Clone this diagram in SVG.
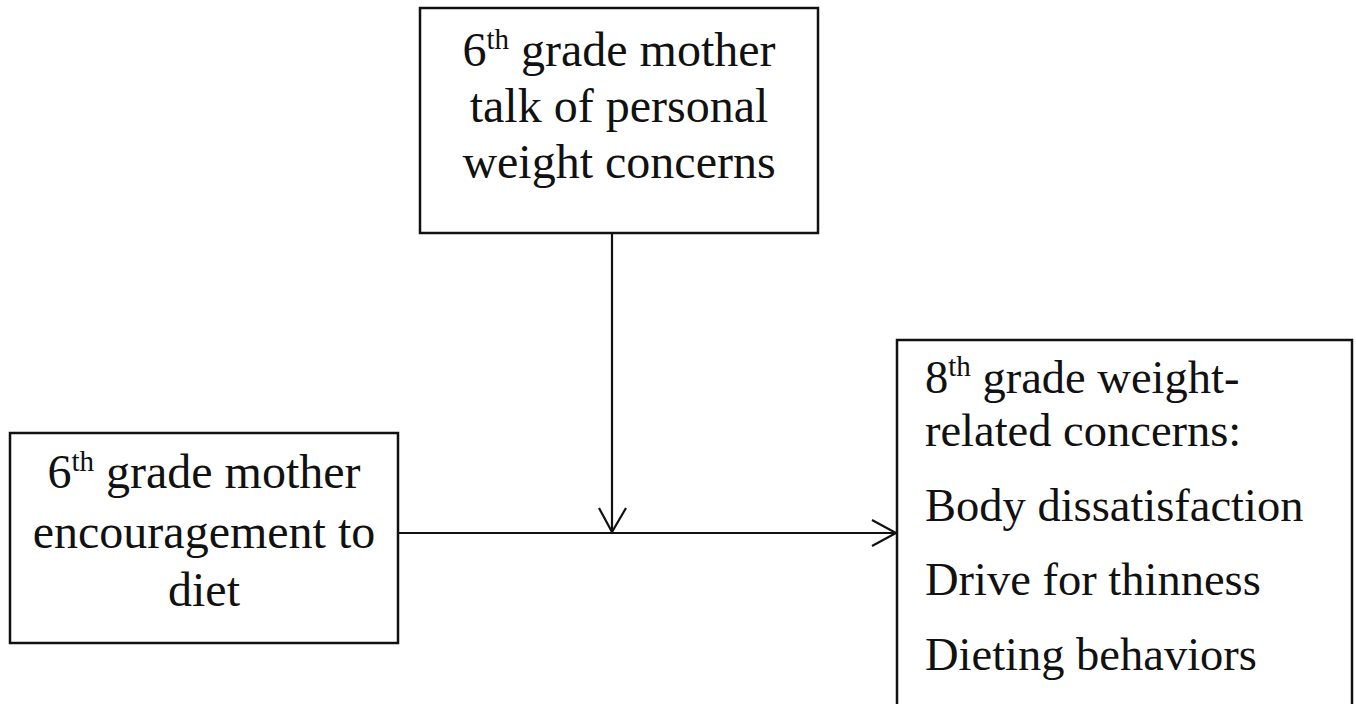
<svg xmlns="http://www.w3.org/2000/svg" width="1356" height="704" viewBox="0 0 1356 704">
<style>
.box{fill:#fff;stroke:#111;stroke-width:2.5}
.t{font-family:"Liberation Serif","Times New Roman",serif;font-size:48px;fill:#111}
.r{font-size:46.5px}
.c{text-anchor:middle}
.sup{font-size:29px}
.ln{stroke:#111;stroke-width:2.2;fill:none}
</style>
<rect width="1356" height="704" fill="#fff"/>
<g id="connectors">
<line class="ln" x1="612" y1="233" x2="612" y2="532"/>
<polyline class="ln" points="599,508 612,532 626,508"/>
<line class="ln" x1="398" y1="533" x2="897" y2="533"/>
<polyline class="ln" points="872,520 896,533 872,546"/>
</g>
<g id="node-talk">
<rect class="box" x="420" y="8" width="398" height="225"/>
<text class="t c" x="619" y="66">6<tspan class="sup" dy="-17">th</tspan><tspan dy="17"> grade mother</tspan></text>
<text class="t c" x="619" y="122">talk of personal</text>
<text class="t c" x="619" y="178">weight concerns</text>
</g>
<g id="node-encourage">
<rect class="box" x="10" y="433" width="388" height="210"/>
<text class="t c" x="204" y="488">6<tspan class="sup" dy="-17">th</tspan><tspan dy="17"> grade mother</tspan></text>
<text class="t c" x="204" y="548">encouragement to</text>
<text class="t c" x="204" y="606">diet</text>
</g>
<g id="node-outcome">
<rect class="box" x="897" y="340" width="455" height="380"/>
<text class="t r" x="925" y="393">8<tspan class="sup" dy="-17">th</tspan><tspan dy="17"> grade weight-</tspan></text>
<text class="t r" x="925" y="446">related concerns:</text>
<text class="t r" x="925" y="521">Body dissatisfaction</text>
<text class="t r" x="925" y="595">Drive for thinness</text>
<text class="t r" x="925" y="670">Dieting behaviors</text>
</g>
</svg>
